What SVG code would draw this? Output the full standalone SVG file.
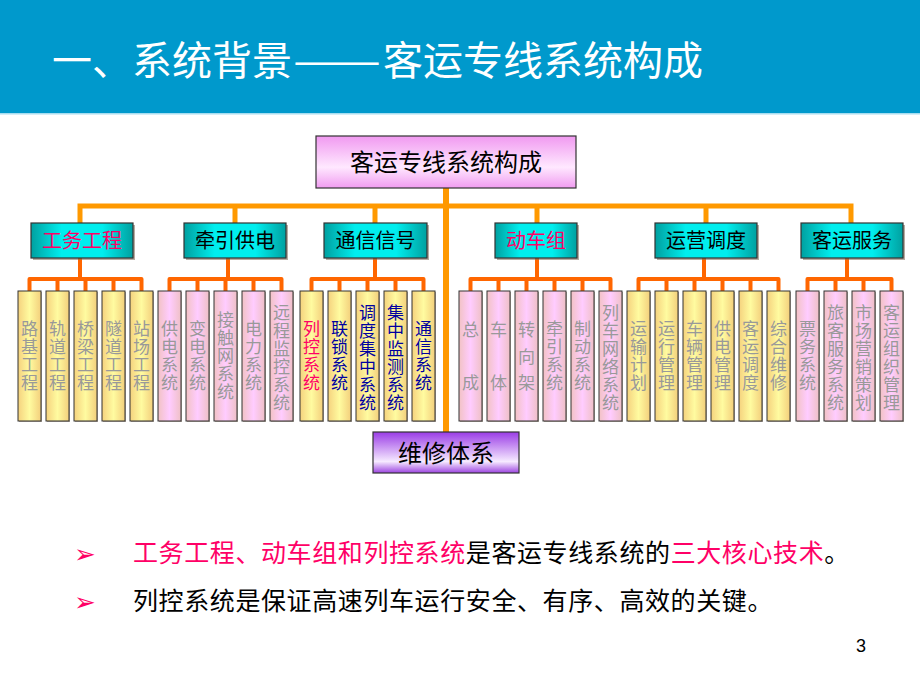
<svg xmlns="http://www.w3.org/2000/svg" width="920" height="690" viewBox="0 0 920 690">
<defs>
<linearGradient id="gRoot" x1="0" y1="0" x2="0" y2="1">
<stop offset="0" stop-color="#F099F0"/><stop offset="0.6" stop-color="#FFE8FF"/><stop offset="1" stop-color="#F09CF0"/>
</linearGradient>
<linearGradient id="gL2" x1="0" y1="0" x2="1" y2="0">
<stop offset="0" stop-color="#00A0A0"/><stop offset="0.3" stop-color="#00EEEE"/><stop offset="0.7" stop-color="#00EEEE"/><stop offset="1" stop-color="#00A0A0"/>
</linearGradient>
<linearGradient id="gY" x1="0" y1="0" x2="1" y2="0">
<stop offset="0" stop-color="#F5D27E"/><stop offset="0.5" stop-color="#FFFBA0"/><stop offset="1" stop-color="#F3CF7C"/>
</linearGradient>
<linearGradient id="gP" x1="0" y1="0" x2="1" y2="0">
<stop offset="0" stop-color="#F2C2C4"/><stop offset="0.5" stop-color="#FFCCFF"/><stop offset="1" stop-color="#EFC0C6"/>
</linearGradient>
<linearGradient id="gPur" x1="0" y1="0" x2="0" y2="1">
<stop offset="0" stop-color="#9A3CE6"/><stop offset="0.72" stop-color="#F6EAFF"/><stop offset="1" stop-color="#9C44E0"/>
</linearGradient>
<style>
.cjk{font-family:"Noto Sans CJK SC","Noto Sans",sans-serif;}
.box{stroke:#333;stroke-width:1.2;}
.sh{fill:#7a6a55;opacity:0.55;}
.leafY{fill:url(#gY);stroke:#333;stroke-width:1;}
.leafP{fill:url(#gP);stroke:#333;stroke-width:1;}
.lt{font-family:"Noto Sans CJK SC","Noto Sans",sans-serif;font-size:17px;fill:#999999;text-anchor:middle;}
.lb{fill:#0000A0;}
.lr{fill:#FF0066;}
.up{stroke:#FF9900;fill:none;}
.lo{stroke:#FF6600;stroke-width:4;fill:none;stroke-linejoin:round;stroke-linecap:butt;}
.l2t{font-family:"Noto Sans CJK SC","Noto Sans",sans-serif;font-size:20px;text-anchor:middle;fill:#000;}
.bt{font-family:"Noto Sans CJK SC","Noto Sans",sans-serif;font-size:25px;letter-spacing:0.6px;fill:#000;}
.ar{font-family:"DejaVu Sans",sans-serif;font-size:26px;fill:#FF0066;}
</style>
</defs>
<rect x="0" y="0" width="920" height="690" fill="#FFFFFF"/>
<rect x="0" y="0" width="920" height="113" fill="#0099CC"/>
<rect x="0" y="113" width="920" height="1.5" fill="#A8DDF0"/>
<text x="52" y="75" class="cjk" font-size="40" fill="#FFFFFF">一、系统背景</text>
<text x="293" y="75" class="cjk" font-size="40" fill="#FFFFFF" textLength="88" lengthAdjust="spacingAndGlyphs">——</text>
<text x="383" y="75" class="cjk" font-size="40" fill="#FFFFFF">客运专线系统构成</text>

<g id="connectors">
<path class="up" stroke-width="6" d="M446 188 V432"/>
<path class="up" stroke-width="5" d="M80 223 V206 H851 V223"/>
<path class="up" stroke-width="5" d="M235 206 V223 M375 206 V223 M537 206 V223 M706 206 V223"/>
<path class="lo" d="M80 258 V279 M29.5 291 V279 H141.5 V291 M57.5 279 V291 M85.5 279 V291 M113.5 279 V291"/>
<path class="lo" d="M228 258 V279 M169.5 291 V279 H281.5 V291 M197.5 279 V291 M225.5 279 V291 M253.5 279 V291"/>
<path class="lo" d="M375 258 V279 M311.5 291 V279 H423.5 V291 M339.5 279 V291 M367.5 279 V291 M395.5 279 V291"/>
<path class="lo" d="M537 258 V279 M470.5 291 V279 H610.5 V291 M498.5 279 V291 M526.5 279 V291 M554.5 279 V291 M582.5 279 V291"/>
<path class="lo" d="M704 258 V279 M638.5 291 V279 H778.5 V291 M666.5 279 V291 M694.5 279 V291 M722.5 279 V291 M750.5 279 V291"/>
<path class="lo" d="M847 258 V279 M807.5 291 V279 H891.5 V291 M835.5 279 V291 M863.5 279 V291"/>
</g>

<g id="root">
<rect x="316" y="136" width="260" height="52" fill="url(#gRoot)" class="box"/>
<text x="446" y="171" class="cjk" font-size="24" text-anchor="middle" fill="#000">客运专线系统构成</text>
</g>

<g id="n-gongwu"><rect x="33" y="225" width="102" height="35" class="sh"/><rect x="31" y="223" width="102" height="35" fill="url(#gL2)" class="box"/><text x="82" y="248" class="l2t" style="fill:#FF0066">工务工程</text></g>
<g id="n-qianyin"><rect x="186" y="225" width="102" height="35" class="sh"/><rect x="184" y="223" width="102" height="35" fill="url(#gL2)" class="box"/><text x="235" y="248" class="l2t">牵引供电</text></g>
<g id="n-tongxin"><rect x="326" y="225" width="103" height="35" class="sh"/><rect x="324" y="223" width="103" height="35" fill="url(#gL2)" class="box"/><text x="375.5" y="248" class="l2t">通信信号</text></g>
<g id="n-dongche"><rect x="497" y="225" width="82" height="35" class="sh"/><rect x="495" y="223" width="82" height="35" fill="url(#gL2)" class="box"/><text x="536" y="248" class="l2t" style="fill:#FF0066">动车组</text></g>
<g id="n-yunying"><rect x="657" y="225" width="102" height="35" class="sh"/><rect x="655" y="223" width="102" height="35" fill="url(#gL2)" class="box"/><text x="706" y="248" class="l2t">运营调度</text></g>
<g id="n-keyun"><rect x="803" y="225" width="102" height="35" class="sh"/><rect x="801" y="223" width="102" height="35" fill="url(#gL2)" class="box"/><text x="852" y="248" class="l2t">客运服务</text></g>

<!-- Group 1 leaves (yellow) -->
<g id="leaf-luji"><rect x="19" y="292" width="23" height="130" class="sh"/><rect x="18" y="291" width="23" height="130" class="leafY"/><text class="lt"><tspan x="29.5" y="335">路</tspan><tspan x="29.5" y="353">基</tspan><tspan x="29.5" y="371">工</tspan><tspan x="29.5" y="389">程</tspan></text></g>
<g id="leaf-guidao"><rect x="47" y="292" width="23" height="130" class="sh"/><rect x="46" y="291" width="23" height="130" class="leafY"/><text class="lt"><tspan x="57.5" y="335">轨</tspan><tspan x="57.5" y="353">道</tspan><tspan x="57.5" y="371">工</tspan><tspan x="57.5" y="389">程</tspan></text></g>
<g id="leaf-qiaoliang"><rect x="75" y="292" width="23" height="130" class="sh"/><rect x="74" y="291" width="23" height="130" class="leafY"/><text class="lt"><tspan x="85.5" y="335">桥</tspan><tspan x="85.5" y="353">梁</tspan><tspan x="85.5" y="371">工</tspan><tspan x="85.5" y="389">程</tspan></text></g>
<g id="leaf-suidao"><rect x="103" y="292" width="23" height="130" class="sh"/><rect x="102" y="291" width="23" height="130" class="leafY"/><text class="lt"><tspan x="113.5" y="335">隧</tspan><tspan x="113.5" y="353">道</tspan><tspan x="113.5" y="371">工</tspan><tspan x="113.5" y="389">程</tspan></text></g>
<g id="leaf-zhanchang"><rect x="131" y="292" width="23" height="130" class="sh"/><rect x="130" y="291" width="23" height="130" class="leafY"/><text class="lt"><tspan x="141.5" y="335">站</tspan><tspan x="141.5" y="353">场</tspan><tspan x="141.5" y="371">工</tspan><tspan x="141.5" y="389">程</tspan></text></g>

<!-- Group 2 leaves (pink) -->
<g id="leaf-gongdian"><rect x="159" y="292" width="23" height="130" class="sh"/><rect x="158" y="291" width="23" height="130" class="leafP"/><text class="lt"><tspan x="169.5" y="335">供</tspan><tspan x="169.5" y="353">电</tspan><tspan x="169.5" y="371">系</tspan><tspan x="169.5" y="389">统</tspan></text></g>
<g id="leaf-biandian"><rect x="187" y="292" width="23" height="130" class="sh"/><rect x="186" y="291" width="23" height="130" class="leafP"/><text class="lt"><tspan x="197.5" y="335">变</tspan><tspan x="197.5" y="353">电</tspan><tspan x="197.5" y="371">系</tspan><tspan x="197.5" y="389">统</tspan></text></g>
<g id="leaf-jiechuwang"><rect x="215" y="292" width="23" height="130" class="sh"/><rect x="214" y="291" width="23" height="130" class="leafP"/><text class="lt"><tspan x="225.5" y="326">接</tspan><tspan x="225.5" y="344">触</tspan><tspan x="225.5" y="362">网</tspan><tspan x="225.5" y="380">系</tspan><tspan x="225.5" y="398">统</tspan></text></g>
<g id="leaf-dianli"><rect x="243" y="292" width="23" height="130" class="sh"/><rect x="242" y="291" width="23" height="130" class="leafP"/><text class="lt"><tspan x="253.5" y="335">电</tspan><tspan x="253.5" y="353">力</tspan><tspan x="253.5" y="371">系</tspan><tspan x="253.5" y="389">统</tspan></text></g>
<g id="leaf-yuancheng"><rect x="271" y="292" width="23" height="130" class="sh"/><rect x="270" y="291" width="23" height="130" class="leafP"/><text class="lt"><tspan x="281.5" y="319">远</tspan><tspan x="281.5" y="337">程</tspan><tspan x="281.5" y="355">监</tspan><tspan x="281.5" y="373">控</tspan><tspan x="281.5" y="391">系</tspan><tspan x="281.5" y="409">统</tspan></text></g>

<!-- Group 3 leaves (yellow) -->
<g id="leaf-liekong"><rect x="301" y="292" width="23" height="130" class="sh"/><rect x="300" y="291" width="23" height="130" class="leafY"/><text class="lt lr"><tspan x="311.5" y="335">列</tspan><tspan x="311.5" y="353">控</tspan><tspan x="311.5" y="371">系</tspan><tspan x="311.5" y="389">统</tspan></text></g>
<g id="leaf-liansuo"><rect x="329" y="292" width="23" height="130" class="sh"/><rect x="328" y="291" width="23" height="130" class="leafY"/><text class="lt lb"><tspan x="339.5" y="335">联</tspan><tspan x="339.5" y="353">锁</tspan><tspan x="339.5" y="371">系</tspan><tspan x="339.5" y="389">统</tspan></text></g>
<g id="leaf-diaodu"><rect x="357" y="292" width="23" height="130" class="sh"/><rect x="356" y="291" width="23" height="130" class="leafY"/><text class="lt lb"><tspan x="367.5" y="319">调</tspan><tspan x="367.5" y="337">度</tspan><tspan x="367.5" y="355">集</tspan><tspan x="367.5" y="373">中</tspan><tspan x="367.5" y="391">系</tspan><tspan x="367.5" y="409">统</tspan></text></g>
<g id="leaf-jiance"><rect x="385" y="292" width="23" height="130" class="sh"/><rect x="384" y="291" width="23" height="130" class="leafY"/><text class="lt lb"><tspan x="395.5" y="319">集</tspan><tspan x="395.5" y="337">中</tspan><tspan x="395.5" y="355">监</tspan><tspan x="395.5" y="373">测</tspan><tspan x="395.5" y="391">系</tspan><tspan x="395.5" y="409">统</tspan></text></g>
<g id="leaf-tongxin"><rect x="413" y="292" width="23" height="130" class="sh"/><rect x="412" y="291" width="23" height="130" class="leafY"/><text class="lt lb"><tspan x="423.5" y="335">通</tspan><tspan x="423.5" y="353">信</tspan><tspan x="423.5" y="371">系</tspan><tspan x="423.5" y="389">统</tspan></text></g>

<!-- Group 4 leaves (pink) -->
<g id="leaf-zongcheng"><rect x="460" y="292" width="23" height="130" class="sh"/><rect x="459" y="291" width="23" height="130" class="leafP"/><text class="lt"><tspan x="470.5" y="336">总</tspan><tspan x="470.5" y="389">成</tspan></text></g>
<g id="leaf-cheti"><rect x="488" y="292" width="23" height="130" class="sh"/><rect x="487" y="291" width="23" height="130" class="leafP"/><text class="lt"><tspan x="498.5" y="336">车</tspan><tspan x="498.5" y="389">体</tspan></text></g>
<g id="leaf-zhuanxiangjia"><rect x="516" y="292" width="23" height="130" class="sh"/><rect x="515" y="291" width="23" height="130" class="leafP"/><text class="lt"><tspan x="526.5" y="336">转</tspan><tspan x="526.5" y="363">向</tspan><tspan x="526.5" y="389">架</tspan></text></g>
<g id="leaf-qianyin"><rect x="544" y="292" width="23" height="130" class="sh"/><rect x="543" y="291" width="23" height="130" class="leafP"/><text class="lt"><tspan x="554.5" y="335">牵</tspan><tspan x="554.5" y="353">引</tspan><tspan x="554.5" y="371">系</tspan><tspan x="554.5" y="389">统</tspan></text></g>
<g id="leaf-zhidong"><rect x="572" y="292" width="23" height="130" class="sh"/><rect x="571" y="291" width="23" height="130" class="leafP"/><text class="lt"><tspan x="582.5" y="335">制</tspan><tspan x="582.5" y="353">动</tspan><tspan x="582.5" y="371">系</tspan><tspan x="582.5" y="389">统</tspan></text></g>
<g id="leaf-wangluo"><rect x="600" y="292" width="23" height="130" class="sh"/><rect x="599" y="291" width="23" height="130" class="leafP"/><text class="lt"><tspan x="610.5" y="319">列</tspan><tspan x="610.5" y="337">车</tspan><tspan x="610.5" y="355">网</tspan><tspan x="610.5" y="373">络</tspan><tspan x="610.5" y="391">系</tspan><tspan x="610.5" y="409">统</tspan></text></g>

<!-- Group 5 leaves (yellow) -->
<g id="leaf-yunshu"><rect x="628" y="292" width="23" height="130" class="sh"/><rect x="627" y="291" width="23" height="130" class="leafY"/><text class="lt"><tspan x="638.5" y="335">运</tspan><tspan x="638.5" y="353">输</tspan><tspan x="638.5" y="371">计</tspan><tspan x="638.5" y="389">划</tspan></text></g>
<g id="leaf-yunxing"><rect x="656" y="292" width="23" height="130" class="sh"/><rect x="655" y="291" width="23" height="130" class="leafY"/><text class="lt"><tspan x="666.5" y="335">运</tspan><tspan x="666.5" y="353">行</tspan><tspan x="666.5" y="371">管</tspan><tspan x="666.5" y="389">理</tspan></text></g>
<g id="leaf-cheliang"><rect x="684" y="292" width="23" height="130" class="sh"/><rect x="683" y="291" width="23" height="130" class="leafY"/><text class="lt"><tspan x="694.5" y="335">车</tspan><tspan x="694.5" y="353">辆</tspan><tspan x="694.5" y="371">管</tspan><tspan x="694.5" y="389">理</tspan></text></g>
<g id="leaf-gongdianguanli"><rect x="712" y="292" width="23" height="130" class="sh"/><rect x="711" y="291" width="23" height="130" class="leafY"/><text class="lt"><tspan x="722.5" y="335">供</tspan><tspan x="722.5" y="353">电</tspan><tspan x="722.5" y="371">管</tspan><tspan x="722.5" y="389">理</tspan></text></g>
<g id="leaf-keyundiaodu"><rect x="740" y="292" width="23" height="130" class="sh"/><rect x="739" y="291" width="23" height="130" class="leafY"/><text class="lt"><tspan x="750.5" y="335">客</tspan><tspan x="750.5" y="353">运</tspan><tspan x="750.5" y="371">调</tspan><tspan x="750.5" y="389">度</tspan></text></g>
<g id="leaf-zonghe"><rect x="768" y="292" width="23" height="130" class="sh"/><rect x="767" y="291" width="23" height="130" class="leafY"/><text class="lt"><tspan x="778.5" y="335">综</tspan><tspan x="778.5" y="353">合</tspan><tspan x="778.5" y="371">维</tspan><tspan x="778.5" y="389">修</tspan></text></g>

<!-- Group 6 leaves (pink) -->
<g id="leaf-piaowu"><rect x="797" y="292" width="23" height="130" class="sh"/><rect x="796" y="291" width="23" height="130" class="leafP"/><text class="lt"><tspan x="807.5" y="335">票</tspan><tspan x="807.5" y="353">务</tspan><tspan x="807.5" y="371">系</tspan><tspan x="807.5" y="389">统</tspan></text></g>
<g id="leaf-lvke"><rect x="825" y="292" width="23" height="130" class="sh"/><rect x="824" y="291" width="23" height="130" class="leafP"/><text class="lt"><tspan x="835.5" y="319">旅</tspan><tspan x="835.5" y="337">客</tspan><tspan x="835.5" y="355">服</tspan><tspan x="835.5" y="373">务</tspan><tspan x="835.5" y="391">系</tspan><tspan x="835.5" y="409">统</tspan></text></g>
<g id="leaf-shichang"><rect x="853" y="292" width="23" height="130" class="sh"/><rect x="852" y="291" width="23" height="130" class="leafP"/><text class="lt"><tspan x="863.5" y="319">市</tspan><tspan x="863.5" y="337">场</tspan><tspan x="863.5" y="355">营</tspan><tspan x="863.5" y="373">销</tspan><tspan x="863.5" y="391">策</tspan><tspan x="863.5" y="409">划</tspan></text></g>
<g id="leaf-zuzhi"><rect x="881" y="292" width="23" height="130" class="sh"/><rect x="880" y="291" width="23" height="130" class="leafP"/><text class="lt"><tspan x="891.5" y="319">客</tspan><tspan x="891.5" y="337">运</tspan><tspan x="891.5" y="355">组</tspan><tspan x="891.5" y="373">织</tspan><tspan x="891.5" y="391">管</tspan><tspan x="891.5" y="409">理</tspan></text></g>

<g id="n-weixiu">
<rect x="373" y="432" width="146" height="41" fill="url(#gPur)" class="box"/>
<text x="446" y="462" class="cjk" font-size="24" text-anchor="middle" fill="#000">维修体系</text>
</g>

<g id="bullets">
<text x="74" y="563" class="ar">➢</text>
<text x="133" y="562" class="bt"><tspan fill="#FF0066">工务工程、动车组和列控系统</tspan><tspan>是客运专线系统的</tspan><tspan fill="#FF0066">三大核心技术</tspan><tspan>。</tspan></text>
<text x="74" y="611" class="ar">➢</text>
<text x="133" y="610" class="bt">列控系统是保证高速列车运行安全、有序、高效的关键。</text>
</g>
<text x="856" y="652" font-family="Liberation Sans, Arial, sans-serif" font-size="18" fill="#000">3</text>
</svg>
